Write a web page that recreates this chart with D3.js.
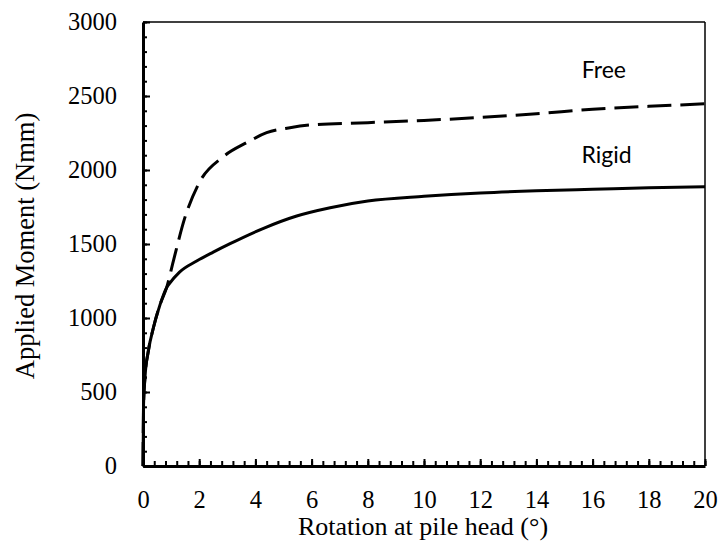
<!DOCTYPE html>
<html>
<head>
<meta charset="utf-8">
<script src="https://cdn.jsdelivr.net/npm/d3@7"></script>
<style>
  body { margin: 0; background: #fff; }
  svg { display: block; }
</style>
</head>
<body>
<svg></svg>
<script>
// rotation at pile head (deg) vs applied moment (Nmm)
var rigidX = [0, 0.02, 0.07, 0.19, 0.37, 0.61, 0.84, 0.94, 1.3, 1.91, 2.5, 3.1, 4.29, 5.47, 6.66, 8, 10, 12, 14, 16, 18, 20];
var rigidY = [0, 418, 597, 777, 934, 1092, 1205, 1232, 1310, 1385, 1445, 1502, 1606, 1689, 1745, 1790, 1822, 1845, 1860, 1870, 1880, 1887];

var freeX = [0, 0.02, 0.07, 0.19, 0.37, 0.61, 0.84, 1.08, 1.49, 1.97, 2.86, 3.69, 4.4, 5.23, 6, 8, 10, 12, 14, 16, 18, 20];
var freeY = [0, 418, 597, 777, 934, 1092, 1205, 1385, 1678, 1903, 2090, 2185, 2252, 2286, 2305, 2320, 2335, 2355, 2380, 2410, 2430, 2447];

var xTicks = [0, 2, 4, 6, 8, 10, 12, 14, 16, 18, 20];
var yTicks = [0, 500, 1000, 1500, 2000, 2500, 3000];

var seriesLabels = ["Free", "Rigid"];

var width = 718, height = 543;
var margin = {left: 143, right: 13, top: 22, bottom: 77};
var w = width - margin.left - margin.right;
var h = height - margin.top - margin.bottom;

var x = d3.scaleLinear().domain([0, 20]).range([0, w]);
var y = d3.scaleLinear().domain([0, 3000]).range([h, 0]);

var svg = d3.select("svg").attr("width", width).attr("height", height);
var g = svg.append("g").attr("transform", "translate(" + margin.left + "," + margin.top + ")");

// box (top/right thin)
g.append("line").attr("x1", 0).attr("x2", w).attr("y1", 0).attr("y2", 0)
  .attr("stroke", "#000").attr("stroke-width", 1.5);
g.append("line").attr("x1", w).attr("x2", w).attr("y1", 0).attr("y2", h)
  .attr("stroke", "#000").attr("stroke-width", 1.5);

var tickFont = "'Liberation Serif', 'Times New Roman', serif";

// minor ticks
var yMinor = d3.range(0, 3001, 100);
var xMinor = d3.range(0, 20.001, 0.4);

g.append("g").call(d3.axisLeft(y).tickValues(yMinor).tickSize(-4).tickFormat(""))
  .call(function(s){ s.select(".domain").remove(); })
  .selectAll("line").attr("stroke-width", 2);
g.append("g").attr("transform", "translate(0," + h + ")")
  .call(d3.axisBottom(x).tickValues(xMinor).tickSize(-5).tickFormat(""))
  .call(function(s){ s.select(".domain").remove(); })
  .selectAll("line").attr("stroke-width", 2);

// major axes
var yAxis = g.append("g")
  .call(d3.axisLeft(y).tickValues(yTicks).tickFormat(d3.format("d"))
    .tickSizeInner(-7).tickSizeOuter(0).tickPadding(26));
var xAxis = g.append("g").attr("transform", "translate(0," + h + ")")
  .call(d3.axisBottom(x).tickValues(xTicks).tickFormat(d3.format("d"))
    .tickSizeInner(-7).tickSizeOuter(0).tickPadding(25));

[yAxis, xAxis].forEach(function(a){
  a.select(".domain").attr("stroke-width", 3);
  a.selectAll(".tick line").attr("stroke-width", 2);
  a.selectAll("text").attr("font-family", tickFont).attr("font-size", 24.5).attr("fill", "#000");
});

// lines
var line = d3.line()
  .x(function(d){ return x(d[0]); })
  .y(function(d){ return y(d[1]); })
  .curve(d3.curveMonotoneX);

var freeData = freeX.map(function(v, i){ return [v, freeY[i]]; });
var rigidData = rigidX.map(function(v, i){ return [v, rigidY[i]]; });

g.append("path").datum(freeData)
  .attr("d", line)
  .attr("fill", "none").attr("stroke", "#000").attr("stroke-width", 3)
  .attr("stroke-dasharray", "24,9");

g.append("path").datum(rigidData)
  .attr("d", line)
  .attr("fill", "none").attr("stroke", "#000").attr("stroke-width", 3);

// series labels
var labelFont = "Lato, 'Open Sans', sans-serif";
g.append("text").attr("x", x(16.4)).attr("y", y(2620))
  .attr("text-anchor", "middle").attr("font-family", labelFont).attr("font-size", 23)
  .text(seriesLabels[0]);
g.append("text").attr("x", x(16.5)).attr("y", y(2045))
  .attr("text-anchor", "middle").attr("font-family", labelFont).attr("font-size", 23)
  .text(seriesLabels[1]);

// axis titles
svg.append("text")
  .attr("x", margin.left + w / 2 - 1).attr("y", 535)
  .attr("text-anchor", "middle").attr("font-family", tickFont).attr("font-size", 26)
  .text("Rotation at pile head (°)");

svg.append("text")
  .attr("transform", "translate(34," + (margin.top + h / 2 + 2) + ") rotate(-90)")
  .attr("text-anchor", "middle").attr("font-family", tickFont).attr("font-size", 26.5)
  .text("Applied Moment (Nmm)");
</script>
</body>
</html>
